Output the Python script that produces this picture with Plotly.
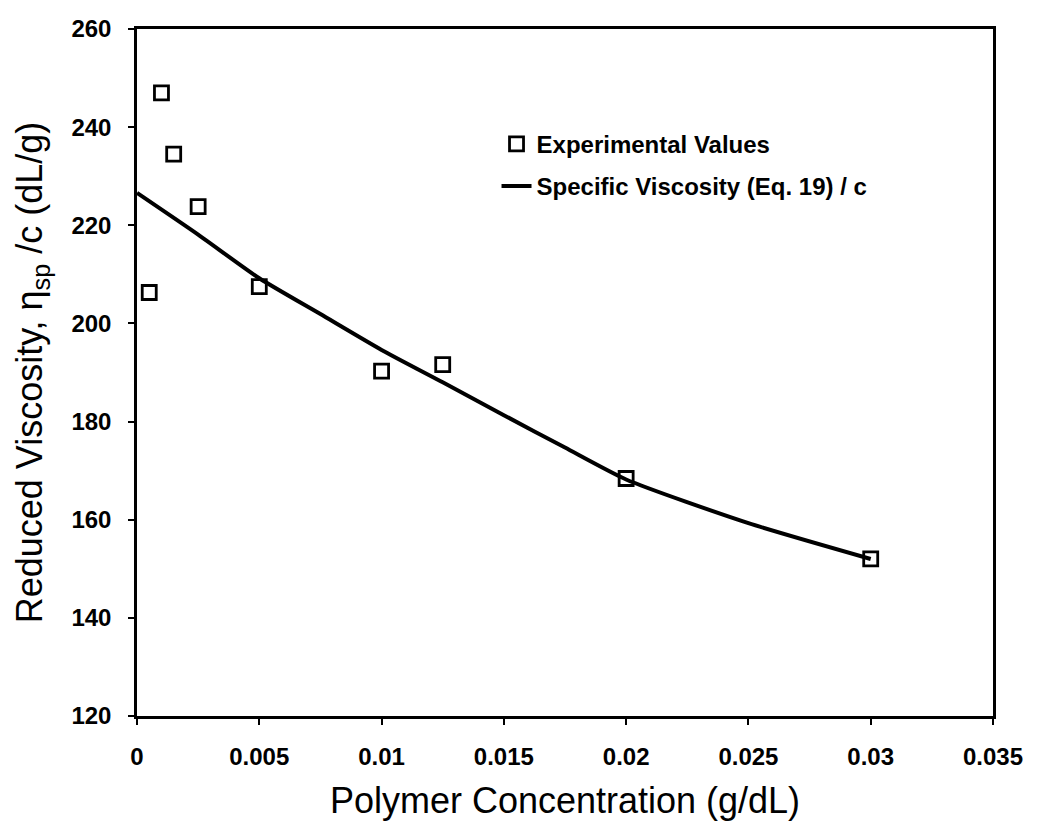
import plotly.graph_objects as go

# Experimental values
conc_exp = [0.0005, 0.001, 0.0015, 0.0025, 0.005, 0.01, 0.0125, 0.02, 0.03]
visc_exp = [206.3, 247.0, 234.5, 223.8, 207.5, 190.3, 191.6, 168.4, 152.0]

# Specific viscosity (Eq. 19) / c curve
conc_fit = [0.0, 0.0025, 0.005, 0.0075, 0.01, 0.0125, 0.015, 0.0175, 0.02, 0.025, 0.03]
visc_fit = [226.6, 218.1, 209.2, 201.9, 194.6, 188.0, 181.3, 174.7, 168.2, 159.3, 152.0]

x_ticks = [0, 0.005, 0.01, 0.015, 0.02, 0.025, 0.03, 0.035]
x_ticklabels = ["0", "0.005", "0.01", "0.015", "0.02", "0.025", "0.03", "0.035"]
y_ticks = [120, 140, 160, 180, 200, 220, 240, 260]

FONT = "Liberation Sans, Arial, Helvetica, sans-serif"

fig = go.Figure()
fig.add_trace(go.Scatter(
    x=conc_exp, y=visc_exp, mode="markers", name="Experimental Values",
    legendgroup="a",
    marker=dict(symbol="square-open", size=14, color="black", line=dict(width=2.8, color="black")),
))
fig.add_trace(go.Scatter(
    x=conc_fit, y=visc_fit, mode="lines", name="Specific Viscosity (Eq. 19) / c",
    legendgroup="b",
    line=dict(color="black", width=4, shape="spline", smoothing=0.6),
))

fig.update_layout(
    width=1039, height=826,
    margin=dict(l=129, r=54, t=21, b=118),
    paper_bgcolor="white", plot_bgcolor="white",
    font=dict(family=FONT, color="black"),
    showlegend=True,
    legend=dict(
        x=0.42, y=0.865, xanchor="left", yanchor="top",
        bgcolor="rgba(0,0,0,0)", borderwidth=0,
        font=dict(size=24, family=FONT, color="black", weight="bold"),
        itemwidth=30, tracegroupgap=8,
    ),
    xaxis=dict(
        range=[0, 0.035], tickmode="array", tickvals=x_ticks, ticktext=x_ticklabels,
        showline=True, linewidth=2.5, linecolor="black", mirror=True,
        ticks="outside", ticklen=6, tickwidth=1.5, tickcolor="black",
        showgrid=False, zeroline=False, automargin=False,
        tickfont=dict(size=24, family=FONT, color="black", weight="bold"),
        ticklabelstandoff=11,
        title=dict(text="Polymer Concentration (g/dL)", font=dict(size=36, family=FONT, color="black"), standoff=20),
    ),
    yaxis=dict(
        range=[120, 260], tickmode="array", tickvals=y_ticks,
        showline=True, linewidth=2.5, linecolor="black", mirror=True,
        ticks="outside", ticklen=6, tickwidth=1.5, tickcolor="black",
        showgrid=False, zeroline=False, automargin=False,
        tickfont=dict(size=24, family=FONT, color="black", weight="bold"),
        ticklabelstandoff=12,
        title=dict(text="Reduced Viscosity, η<sub>sp</sub> /c (dL/g)", font=dict(size=36, family=FONT, color="black"), standoff=18),
    ),
)

fig.write_html("out.html")
